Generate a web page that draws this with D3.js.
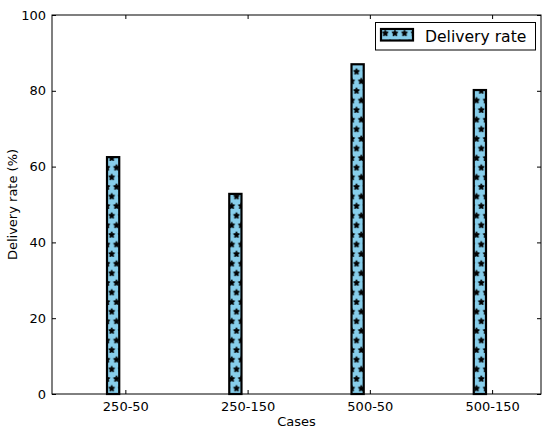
<!DOCTYPE html>
<html><head><meta charset="utf-8">
<script src="https://cdn.jsdelivr.net/npm/d3@7"></script>
<style>body{margin:0;background:#fff}svg{display:block}text{font-family:"DejaVu Sans",sans-serif;fill:#000}</style>
</head><body><svg id="c" width="550" height="433"></svg>
<script>
const categories = ["250-50","250-150","500-50","500-150"];
const values = [62.5, 52.8, 87.0, 80.2];
const yTicks = [0,20,40,60,80,100];
const seriesName = "Delivery rate";

const svg = d3.select("#c");
const L=52,R=541,T=15,B=394;
const x = d3.scaleLinear().domain([0,4]).range([L,R]);
const y = d3.scaleLinear().domain([0,100]).range([B,T]);
const barW = 0.1;

// star hatch pattern (matplotlib-like '*' hatch)
const P = 9.6;
const defs = svg.append("defs");
const pat = defs.append("pattern").attr("id","stars").attr("patternUnits","userSpaceOnUse")
  .attr("x",356.5).attr("y",71.7).attr("width",P).attr("height",2*P);
pat.append("rect").attr("width",P).attr("height",2*P).attr("fill","#87ceeb");
function starPath(r){
  const pts=[];
  for(let k=0;k<10;k++){
    const a=-Math.PI/2+k*Math.PI/5, rr=(k%2===0)?r:r*0.5;
    pts.push([rr*Math.cos(a), rr*Math.sin(a)]);
  }
  return "M"+pts.map(p=>p.join(",")).join("L")+"Z";
}
const sp = starPath(P/3);
[[0,0],[P,0],[0,2*P],[P,2*P],[P/2,P]].forEach(p=>{
  pat.append("path").attr("d",sp).attr("transform",`translate(${p[0]},${p[1]})`)
    .attr("fill","#000").attr("stroke","#000").attr("stroke-width",0.9).attr("stroke-linejoin","round");
});

const g = svg.append("g");
g.selectAll("rect.bar").data(values).enter().append("rect").attr("class","bar")
  .attr("x",(d,i)=>x(i+0.5-barW/2)).attr("width",(d,i)=>x(i+0.5+barW/2)-x(i+0.5-barW/2))
  .attr("y",d=>y(d)).attr("height",d=>y(0)-y(d))
  .attr("fill","url(#stars)").attr("stroke","#000").attr("stroke-width",2.2);

g.append("rect").attr("x",L).attr("y",T).attr("width",R-L).attr("height",B-T)
  .attr("fill","none").attr("stroke","#000").attr("stroke-width",1);

const tickPos = categories.map((c,i)=>i+0.6);
const xa = g.append("g").attr("transform",`translate(0,${B})`)
  .call(d3.axisBottom(x).tickValues(tickPos).tickFormat((d,i)=>categories[i]).tickSizeInner(-4).tickSizeOuter(0).tickPadding(8));
const xt = g.append("g").attr("transform",`translate(0,${T})`)
  .call(d3.axisTop(x).tickValues(tickPos).tickFormat("").tickSizeInner(-4).tickSizeOuter(0));
const ya = g.append("g").attr("transform",`translate(${L},0)`)
  .call(d3.axisLeft(y).tickValues(yTicks).tickSizeInner(-4).tickSizeOuter(0).tickPadding(6));
const yr = g.append("g").attr("transform",`translate(${R},0)`)
  .call(d3.axisRight(y).tickValues(yTicks).tickFormat("").tickSizeInner(-4).tickSizeOuter(0));
[xa,xt,ya,yr].forEach(a=>{a.select(".domain").remove();a.selectAll("text").style("font-size","13px").style("font-family","DejaVu Sans");});

svg.append("text").attr("x",(L+R)/2).attr("y",426).attr("text-anchor","middle").style("font-size","13px").text("Cases");
svg.append("text").attr("transform",`translate(17,${(T+B)/2}) rotate(-90)`).attr("text-anchor","middle").style("font-size","13px").text("Delivery rate (%)");

const lg = svg.append("g");
lg.append("rect").attr("x",375.5).attr("y",22.5).attr("width",160).attr("height",27.5).attr("fill","#fff").attr("stroke","#000");
lg.append("rect").attr("x",381).attr("y",29).attr("width",32).attr("height",11.5).attr("fill","url(#stars)").attr("stroke","#000").attr("stroke-width",2.2);
lg.append("text").attr("x",425).attr("y",41.5).style("font-size","15.6px").text(seriesName);
</script></body></html>
